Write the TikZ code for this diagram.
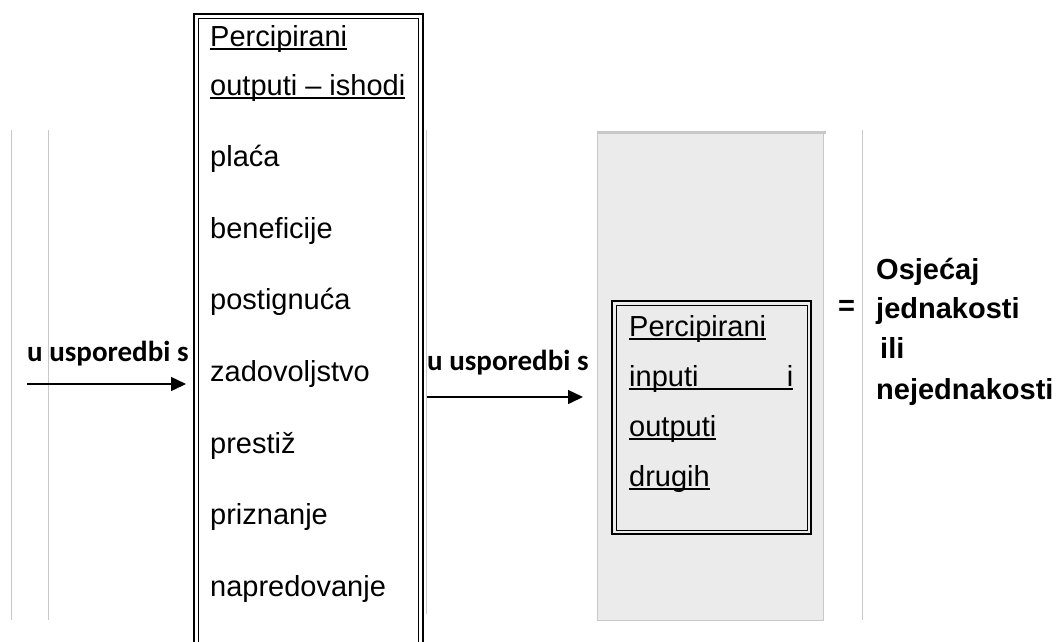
\documentclass[tikz,border=0pt]{standalone}
\usepackage{fontspec}
\setmainfont{Liberation Sans}
\newfontfamily\cmpfont{Carlito}
\usetikzlibrary{arrows.meta}
\newsavebox\ulbox
\newcommand{\ulined}[1]{\sbox\ulbox{#1}\rlap{\rule[-3.5pt]{\wd\ulbox}{2pt}}\usebox\ulbox}
\begin{document}
\begin{tikzpicture}[x=1pt, y=-1pt,
  item/.style={anchor=base west, inner sep=0pt, font=\fontsize{29}{34}\selectfont},
  res/.style={anchor=base west, inner sep=0pt, font=\bfseries\fontsize{29}{34}\selectfont},
  cmp/.style={anchor=base west, inner sep=0pt, font=\cmpfont\bfseries\fontsize{29}{34}\selectfont},
  link/.style={-{Triangle[length=15pt, width=14pt]}, line width=1.4pt}]
\definecolor{rulegray}{HTML}{C8C8C8}
\definecolor{panelgray}{HTML}{EBEBEB}
\useasboundingbox (0,0) rectangle (1059,641);
\clip (0,0) rectangle (1059,641);
\draw[rulegray, line width=1pt] (11,130) -- (11,620) (48,130) -- (48,620) (426,130) -- (426,614) (862,130) -- (862,620);
\fill[panelgray] (597,131) rectangle (823,620);
\draw[rulegray, line width=1pt] (597,131) rectangle (823,620);
\draw[rulegray, line width=3pt] (597,132) -- (826,132);
\draw[line width=2.5pt] (194,14) rectangle (423,700);
\draw[line width=1pt] (198.5,18.5) rectangle (418.5,700);
\node[item] (outHead1) at (210,46) {\ulined{Percipirani}};
\node[item] (outHead2) at (210,95) {\ulined{outputi – ishodi}};
\node[item] (placa) at (210,166) {plaća};
\node[item] (benef) at (210,238) {beneficije};
\node[item] (postig) at (210,309) {postignuća};
\node[item] (zadov) at (210,381) {zadovoljstvo};
\node[item] (prest) at (210,453) {prestiž};
\node[item] (prizn) at (210,524) {priznanje};
\node[item] (napred) at (210,596) {napredovanje};
\draw[line width=2pt] (612,301) rectangle (811,534);
\draw[line width=1pt] (616,305) rectangle (807,530);
\node[item] (othHead) at (629,336) {\ulined{Percipirani}};
\node[item] (othIn) at (629,386) {\ulined{\hbox to 164pt{inputi\hfill i}}};
\node[item] (othOut) at (629,436) {\ulined{outputi}};
\node[item] (othWho) at (629,486) {\ulined{drugih}};
\node[cmp] (cmpA) at (27,361) {u usporedbi s};
\coordinate (cmpA-from) at (27,384);
\coordinate (cmpA-to) at (186,384);
\draw[link] (cmpA-from) -- (cmpA-to);
\node[cmp] (cmpB) at (427,370) {u usporedbi s};
\coordinate (cmpB-from) at (427,397);
\coordinate (cmpB-to) at (583,397);
\draw[link] (cmpB-from) -- (cmpB-to);
\node[res] (eq) at (838,315) {=};
\node[res] (feel1) at (876,279) {Osjećaj};
\node[res] (feel2) at (876,318) {jednakosti};
\node[res] (feel3) at (880,358) {ili};
\node[res] (feel4) at (876,399) {nejednakosti};
\end{tikzpicture}
\end{document}
